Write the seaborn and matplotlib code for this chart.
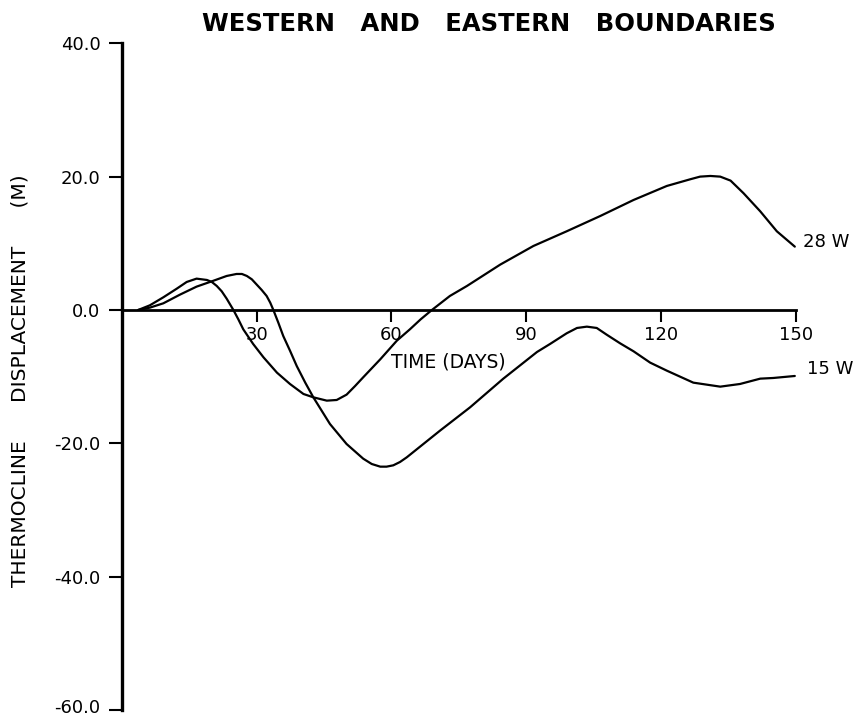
import matplotlib
matplotlib.use("Agg")
import matplotlib.pyplot as plt
import matplotlib.transforms as mtransforms
import seaborn as sns
import pandas as pd

# ---- data ----
days_28w = [3.6, 6.2, 9.2, 12.2, 14.4, 16.6, 18.9, 20.0, 21.1, 22.2, 23.3, 24.8, 25.9,
            27.0, 29.2, 31.5, 34.5, 37.4, 40.4, 42.6, 45.6, 47.8, 50.0, 51.9, 53.7,
            57.5, 61.2, 64.1, 66.5, 69.0, 73.0, 76.8, 84.2, 91.6, 99.0, 106.5, 113.9,
            121.3, 126.5, 128.7, 131.0, 133.2, 135.5, 138.4, 142.1, 145.8, 149.8]
vals_28w = [0.0, 0.7, 1.9, 3.2, 4.2, 4.7, 4.5, 4.2, 3.6, 2.8, 1.7, 0.0, -1.4,
            -2.9, -5.1, -7.1, -9.4, -11.1, -12.6, -13.1, -13.6, -13.5, -12.7, -11.4, -10.1,
            -7.4, -4.6, -2.9, -1.4, 0.0, 2.1, 3.6, 6.8, 9.6, 11.8, 14.1, 16.5,
            18.6, 19.6, 20.0, 20.1, 20.0, 19.4, 17.5, 14.8, 11.8, 9.5]

days_15w = [3.6, 6.2, 9.2, 12.9, 16.6, 20.0, 23.3, 25.5, 26.7, 27.8, 28.9, 30.0, 31.1,
            32.2, 33.0, 33.7, 34.8, 35.9, 37.4, 38.9, 40.8, 42.6, 46.3, 50.0, 53.7,
            55.6, 57.5, 58.9, 60.4, 61.9, 63.4, 67.1, 70.8, 77.5, 84.9, 92.4, 95.3,
            99.0, 101.3, 103.5, 105.7, 107.9, 110.9, 113.9, 117.6, 121.3, 127.2,
            133.2, 137.6, 142.1, 145.0, 149.8]
vals_15w = [0.0, 0.35, 1.0, 2.3, 3.5, 4.3, 5.1, 5.4, 5.4, 5.1, 4.6, 3.8, 3.0,
            2.1, 1.1, 0.0, -1.9, -3.9, -6.1, -8.4, -10.9, -13.1, -17.1, -20.1, -22.3,
            -23.1, -23.5, -23.5, -23.3, -22.8, -22.1, -20.1, -18.1, -14.6, -10.3, -6.3, -5.1,
            -3.5, -2.7, -2.5, -2.7, -3.7, -5.0, -6.2, -7.9, -9.1, -10.9,
            -11.5, -11.1, -10.3, -10.2, -9.9]

x_ticks = [30, 60, 90, 120, 150]
x_tick_labels = ["30", "60", "90", "120", "150"]
y_ticks = [-60, -40, -20, 0, 20, 40]
y_tick_labels = ["-60.0", "-40.0", "-20.0", "0.0", "20.0", "40.0"]
series_names = ["28 W", "15 W"]
title_text = "WESTERN   AND   EASTERN   BOUNDARIES"
ylabel_text = "THERMOCLINE      DISPLACEMENT      (M)"
xlabel_text = "TIME (DAYS)"

df = pd.concat([
    pd.DataFrame({"day": days_28w, "disp": vals_28w, "series": series_names[0]}),
    pd.DataFrame({"day": days_15w, "disp": vals_15w, "series": series_names[1]}),
], ignore_index=True)

sns.set_style("ticks")
plt.rcParams["font.family"] = ["DejaVu Sans"]
plt.rcParams["text.color"] = "black"
plt.rcParams["xtick.color"] = "black"
plt.rcParams["ytick.color"] = "black"

fig = plt.figure(figsize=(8.58, 7.19), dpi=100)
ax = fig.add_axes([0.1422, 0.0125, 0.9274 - 0.1422, 0.9398 - 0.0125])

sns.lineplot(data=df, x="day", y="disp", units="series", estimator=None,
             color="black", linewidth=1.6, sort=False, ax=ax, legend=False)
for ln in ax.get_lines():
    ln.set_solid_joinstyle("round")
    ln.set_solid_capstyle("round")

ax.set_xlim(0, 150)
ax.set_ylim(-60, 40)
ax.set_xlabel("")
ax.set_ylabel("")

for s in ["top", "right"]:
    ax.spines[s].set_visible(False)
ax.spines["bottom"].set_position(("data", 0))
ax.spines["bottom"].set_linewidth(2.0)
ax.spines["left"].set_linewidth(2.4)
ax.spines["left"].set_color("black")
ax.spines["bottom"].set_color("black")

ax.set_xticks(x_ticks)
ax.set_xticklabels(x_tick_labels)
ax.set_yticks(y_ticks)
ax.set_yticklabels(y_tick_labels)
ax.tick_params(axis="x", direction="out", length=8.5, width=1.5, pad=3,
               labelsize=13, colors="black")
ax.tick_params(axis="y", direction="out", length=9.5, width=1.5, pad=6,
               labelsize=13, colors="black")

# nudge the lowest y tick label up slightly so it stays inside the figure
lowest = ax.get_yticklabels()[0]
lowest.set_transform(lowest.get_transform() +
                     mtransforms.ScaledTranslation(0, 3 / 72, fig.dpi_scale_trans))

ax.text(72.7, -7.8, xlabel_text, ha="center", va="center", fontsize=13.5)
ax.text(151.7, 10.2, series_names[0], ha="left", va="center", fontsize=13, clip_on=False)
ax.text(152.6, -8.9, series_names[1], ha="left", va="center", fontsize=13, clip_on=False)

fig.text(0.570, 0.9666, title_text, ha="center", va="center", fontsize=17.5,
         fontweight="bold")
fig.text(0.034, 0.1836, ylabel_text, ha="left", va="bottom", rotation=90,
         fontsize=14.5, rotation_mode="anchor")

fig.savefig("out.png", dpi=100)
